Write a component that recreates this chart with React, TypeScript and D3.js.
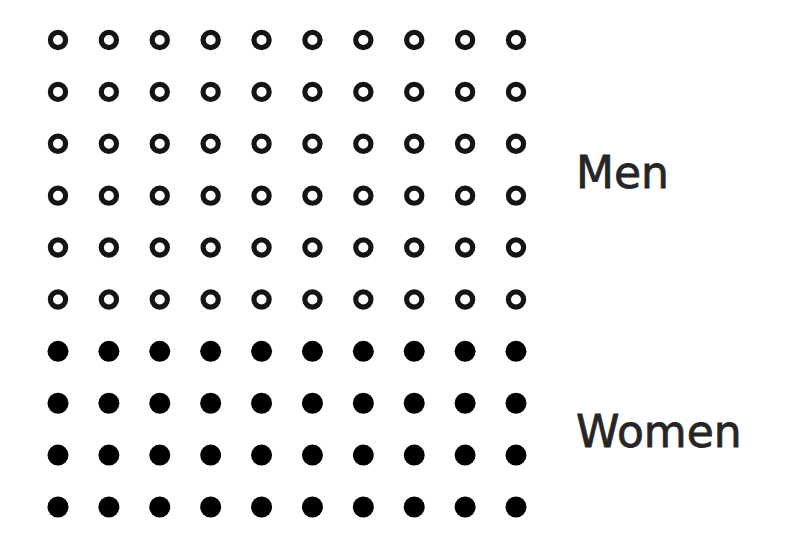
import * as d3 from "d3";
import { useEffect, useRef } from "react";

// each group and how many of the 100 dots it takes
const groups = ["Men", "Women"];
const counts = [60, 40];
const columns = d3.range(10);
const rows = d3.range(10);

const width = 794;
const height = 558;

interface Cell {
  row: number;
  col: number;
  group: string;
}

const App: React.FC = () => {
  const svgRef = useRef<SVGSVGElement | null>(null);

  useEffect(() => {
    const svg = d3.select(svgRef.current);
    svg.selectAll("*").remove();

    // fill grid row by row, group after group
    const cells: Cell[] = [];
    let k = 0;
    groups.forEach((g, gi) => {
      for (let i = 0; i < counts[gi]; i++) {
        cells.push({ row: Math.floor(k / columns.length), col: k % columns.length, group: g });
        k++;
      }
    });

    const xScale = d3.scalePoint<number>().domain(columns).range([58, 516]);
    const yScale = d3.scalePoint<number>().domain(rows).range([40, 507]);

    svg
      .append("rect")
      .attr("width", width)
      .attr("height", height)
      .attr("fill", "#fff");

    // open dots for men
    svg
      .selectAll<SVGCircleElement, Cell>(".men")
      .data(cells.filter((d) => d.group === "Men"))
      .join("circle")
      .attr("class", "men")
      .attr("cx", (d) => xScale(d.col)!)
      .attr("cy", (d) => yScale(d.row)!)
      .attr("r", 7.6)
      .attr("fill", "#fff")
      .attr("stroke", "#141414")
      .attr("stroke-width", 5.2);

    // solid dots for women
    svg
      .selectAll<SVGCircleElement, Cell>(".women")
      .data(cells.filter((d) => d.group === "Women"))
      .join("circle")
      .attr("class", "women")
      .attr("cx", (d) => xScale(d.col)!)
      .attr("cy", (d) => yScale(d.row)!)
      .attr("r", 10.5)
      .attr("fill", "#000");

    // labels sit beside the middle of each group's rows
    const labelX = xScale(columns[columns.length - 1])! + 60;
    groups.forEach((g) => {
      const gRows = cells.filter((d) => d.group === g).map((d) => d.row);
      const mid = (yScale(d3.min(gRows)!)! + yScale(d3.max(gRows)!)!) / 2;
      svg
        .append("text")
        .attr("x", labelX)
        .attr("y", mid + 2)
        .attr("dy", "0.36em")
        .attr("fill", "#262626")
        .attr("stroke", "#262626")
        .attr("stroke-width", 0.8)
        .style("font-family", "'DejaVu Sans', Verdana, sans-serif")
        .style("font-size", "44px")
        .text(g);
    });
  }, []);

  return (
    <div style={{ position: "fixed", left: 0, top: 0 }}>
      <svg ref={svgRef} width={width} height={height} style={{ display: "block" }}></svg>
    </div>
  );
};

export default App;
